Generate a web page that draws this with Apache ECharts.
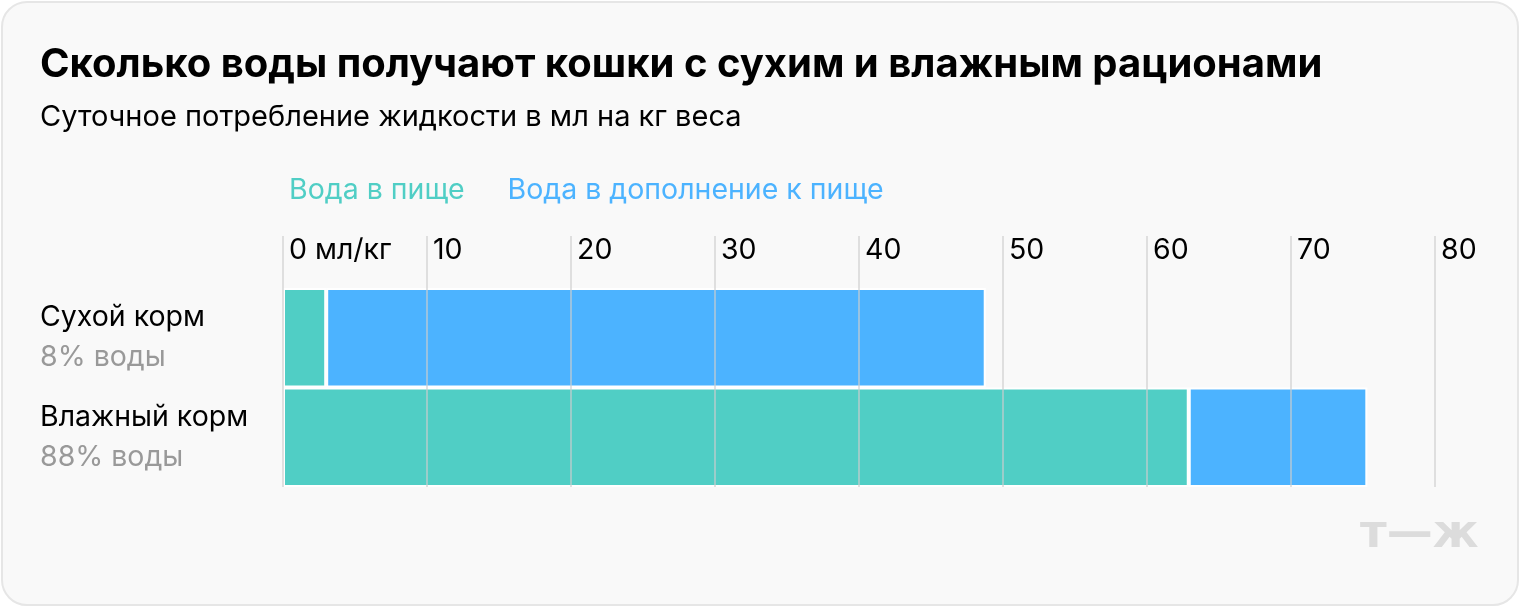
<!DOCTYPE html>
<html><head><meta charset="utf-8">
<script src="https://cdn.jsdelivr.net/npm/echarts@6/dist/echarts.min.js"></script>
<style>
html,body{margin:0;padding:0;background:#fff;}
#card{position:absolute;left:1px;top:1px;width:1514px;height:601px;border:2px solid #e6e6e6;border-radius:26px;background:#f9f9f9;}
#chart{position:absolute;left:0;top:0;width:1520px;height:608px;}
</style></head>
<body>
<div id="card"></div>
<div id="chart"></div>
<script>
const categories = ['Сухой корм', 'Влажный корм'];
const subLabels = ['8% воды', '88% воды'];
const seriesNames = ['Вода в пище', 'Вода в дополнение к пище'];
const foodWater = [3.0, 62.9];
const extraWater = [45.8, 12.4];
const tickLabels = ['0 мл/кг', '10', '20', '30', '40', '50', '60', '70', '80'];
const colors = ['#50cec5', '#4cb3ff'];

const FONT = 'Inter';
const FS = 28.5;
const chart = echarts.init(document.getElementById('chart'), null, {renderer: 'canvas'});
const option = {
  backgroundColor: 'transparent',
  animation: false,
  textStyle: {fontFamily: FONT},
  graphic: [
    {type: 'text', left: 40, top: 45, style: {text: 'Сколько воды получают кошки с сухим и влажным рационами', font: 'bold 40px Inter', fill: '#000'}},
    {type: 'text', left: 40, top: 103, style: {text: 'Суточное потребление жидкости в мл на кг веса', font: '29px Inter', fill: '#000'}},
    {type: 'text', left: 1360, top: 512, style: {text: 'т—ж', font: 'bold 46px "DejaVu Sans"', fill: '#dcdcdc'}}
  ],
  legend: {
    left: 279, top: 171, icon: 'none', itemWidth: 0, itemGap: 38,
    textStyle: {fontSize: FS, fontFamily: FONT},
    data: seriesNames.map((n, i) => ({name: n, textStyle: {color: colors[i]}})),
    selectedMode: false
  },
  grid: [
    {left: 283, right: 85, top: 236, bottom: 121, containLabel: false},
    {left: 283, right: 85, top: 288, bottom: 121, containLabel: false}
  ],
  xAxis: [
    {type: 'value', gridIndex: 0, min: 0, max: 80, interval: 10, position: 'top', z: 10,
     axisLine: {show: false}, axisTick: {show: false},
     axisLabel: {inside: true, margin: 0, align: 'left', verticalAlign: 'top', padding: [0, 0, 0, 6], color: '#000', fontSize: FS, fontFamily: FONT,
       formatter: (v) => tickLabels[Math.round(v / 10)]},
     splitLine: {show: true, lineStyle: {color: 'rgba(205,205,205,0.6)', width: 2}}},
    {type: 'value', gridIndex: 1, min: 0, max: 80, interval: 10, show: false, splitLine: {show: false}}
  ],
  yAxis: [
    {type: 'value', gridIndex: 0, show: false, min: 0, max: 1},
    {type: 'category', gridIndex: 1, inverse: true, data: categories,
     axisLine: {show: false}, axisTick: {show: false}, splitLine: {show: false},
     axisLabel: {margin: 243, align: 'left',
       formatter: (v, i) => '{a|' + v + '}\n{b|' + subLabels[i] + '}',
       rich: {a: {fontSize: FS, color: '#000', lineHeight: 40, fontFamily: FONT}, b: {fontSize: FS, color: '#999', lineHeight: 40, fontFamily: FONT}}}}
  ],
  series: [
    {name: seriesNames[0], type: 'bar', stack: 'w', xAxisIndex: 1, yAxisIndex: 1, data: foodWater, barCategoryGap: 0,
     itemStyle: {color: colors[0], borderColor: '#fff', borderWidth: 2}},
    {name: seriesNames[1], type: 'bar', stack: 'w', xAxisIndex: 1, yAxisIndex: 1, data: extraWater, barCategoryGap: 0,
     itemStyle: {color: colors[1], borderColor: '#fff', borderWidth: 2}}
  ]
};
chart.setOption(option);
</script>
</body></html>
